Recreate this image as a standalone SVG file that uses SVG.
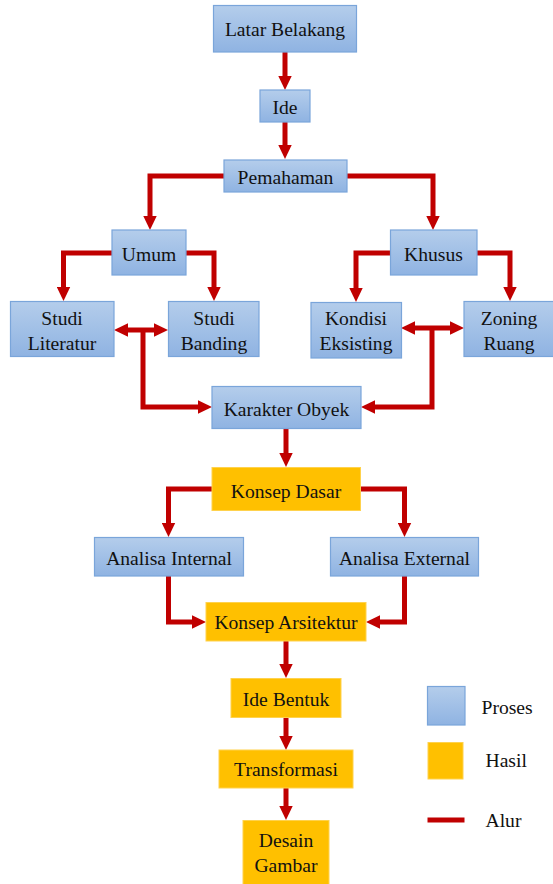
<svg xmlns="http://www.w3.org/2000/svg" width="553" height="884" viewBox="0 0 553 884">
<defs>
<linearGradient id="blueGrad" x1="0" y1="0" x2="0" y2="1">
<stop offset="0" stop-color="#b4cdeb"/>
<stop offset="1" stop-color="#8fb3e2"/>
</linearGradient>
<marker id="ah" markerUnits="userSpaceOnUse" markerWidth="14" markerHeight="14" refX="0" refY="7" orient="auto-start-reverse" viewBox="0 0 14 14">
<path d="M0,0.3 L14,7 L0,13.7 z" fill="#c00000"/>
</marker>
<style>
.proses{fill:url(#blueGrad);stroke:#7aa5da;stroke-width:1.2}
.hasil{fill:#ffc000;stroke:#ffd24d;stroke-width:1}
.c{fill:none;stroke:#c00000;stroke-width:5;stroke-linejoin:miter}
.end{marker-end:url(#ah)}
.both{marker-start:url(#ah);marker-end:url(#ah)}
</style>
</defs>
<g id="connectors">
<path class="c end" d="M285,52 V76"/>
<path class="c end" d="M285,122 V145"/>
<path class="c end" d="M224,176 H150 V216"/>
<path class="c end" d="M347,176 H433 V216"/>
<path class="c end" d="M112,253 H63.5 V287"/>
<path class="c end" d="M186,253 H214 V287"/>
<path class="c end" d="M390,253 H356 V288"/>
<path class="c end" d="M477,253 H510 V287"/>
<path class="c both" d="M128,330 H154"/>
<path class="c end" d="M143,330 V407 H198"/>
<path class="c both" d="M415,328 H450"/>
<path class="c end" d="M432,328 V407 H375"/>
<path class="c end" d="M286,429 V453"/>
<path class="c end" d="M212,489 H168.5 V523"/>
<path class="c end" d="M360,489 H404.5 V523"/>
<path class="c end" d="M168.5,576 V622 H192"/>
<path class="c end" d="M404.5,576 V622 H380"/>
<path class="c end" d="M286,641 V664"/>
<path class="c end" d="M286,717 V736"/>
<path class="c end" d="M286,788 V806"/>
</g>
<g font-family="'Liberation Serif', serif" font-size="19.6" fill="#111" text-anchor="middle">
<g id="latar-belakang"><rect class="proses" x="213.5" y="5.5" width="143" height="46.5"/><text x="285" y="36">Latar Belakang</text></g>
<g id="ide"><rect class="proses" x="260" y="90" width="50" height="32"/><text x="285" y="114">Ide</text></g>
<g id="pemahaman"><rect class="proses" x="224" y="160" width="123" height="32"/><text x="285.5" y="184">Pemahaman</text></g>
<g id="umum"><rect class="proses" x="112" y="230" width="74" height="45"/><text x="149" y="261">Umum</text></g>
<g id="khusus"><rect class="proses" x="390.5" y="230" width="86.5" height="45"/><text x="433.5" y="261">Khusus</text></g>
<g id="studi-literatur"><rect class="proses" x="10.5" y="301.5" width="103.5" height="55"/><text x="62" y="325">Studi</text><text x="62" y="350">Literatur</text></g>
<g id="studi-banding"><rect class="proses" x="168.5" y="301.5" width="90.5" height="55"/><text x="214" y="325">Studi</text><text x="214" y="350">Banding</text></g>
<g id="kondisi-eksisting"><rect class="proses" x="311" y="302.5" width="90.5" height="55.5"/><text x="356" y="325">Kondisi</text><text x="356" y="350">Eksisting</text></g>
<g id="zoning-ruang"><rect class="proses" x="464" y="301.5" width="95" height="55"/><text x="509" y="325">Zoning</text><text x="509" y="350">Ruang</text></g>
<g id="karakter-obyek"><rect class="proses" x="212" y="386.5" width="149" height="42"/><text x="286.5" y="416">Karakter Obyek</text></g>
<g id="konsep-dasar"><rect class="hasil" x="212" y="467.5" width="148.5" height="43"/><text x="286" y="498">Konsep Dasar</text></g>
<g id="analisa-internal"><rect class="proses" x="94.5" y="537.5" width="149" height="38.5"/><text x="169" y="565">Analisa Internal</text></g>
<g id="analisa-external"><rect class="proses" x="330.5" y="537.5" width="148" height="38.5"/><text x="404.5" y="565">Analisa External</text></g>
<g id="konsep-arsitektur"><rect class="hasil" x="206" y="602.5" width="160" height="38.5"/><text x="286" y="629">Konsep Arsitektur</text></g>
<g id="ide-bentuk"><rect class="hasil" x="231" y="678.5" width="110" height="39"/><text x="286" y="705.5">Ide Bentuk</text></g>
<g id="transformasi"><rect class="hasil" x="219" y="750" width="134" height="38"/><text x="286" y="776">Transformasi</text></g>
<g id="desain-gambar"><rect class="hasil" x="243" y="820.5" width="86" height="66"/><text x="286" y="847">Desain</text><text x="286" y="872">Gambar</text></g>
<g id="legend" text-anchor="start">
<rect class="proses" x="427.5" y="686.5" width="37.5" height="38.5"/>
<text x="481.5" y="714">Proses</text>
<rect class="hasil" x="428" y="742.5" width="35" height="36.5"/>
<text x="485.5" y="767">Hasil</text>
<line x1="427.5" y1="820" x2="464.5" y2="820" stroke="#c00000" stroke-width="5"/>
<text x="485.5" y="827">Alur</text>
</g>
</g>
</svg>
